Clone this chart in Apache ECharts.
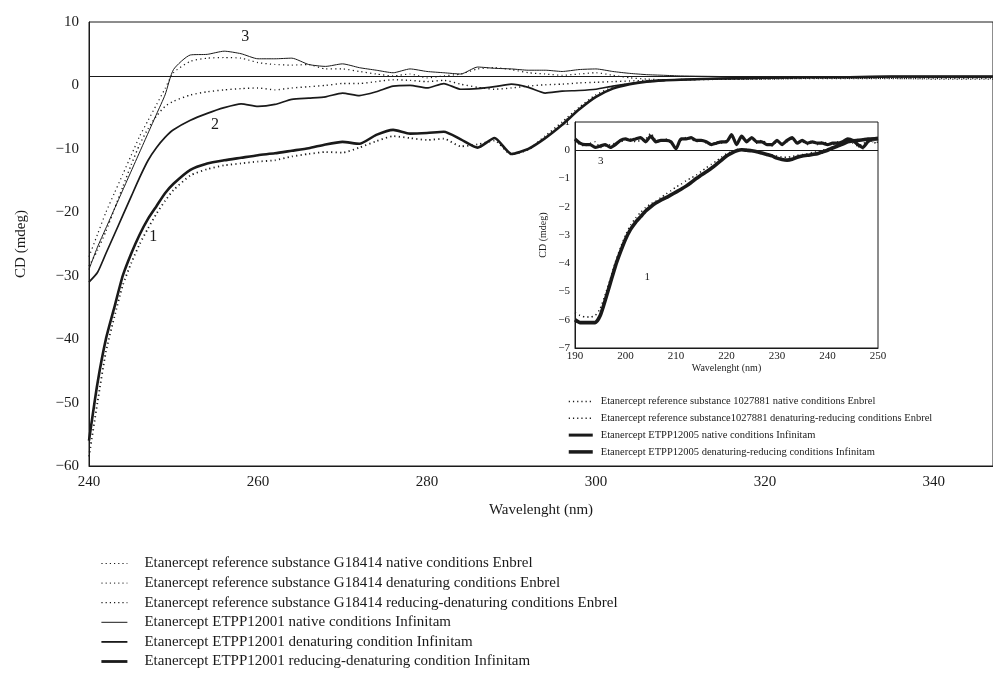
<!DOCTYPE html>
<html>
<head>
<meta charset="utf-8">
<script src="https://cdn.jsdelivr.net/npm/echarts@6/dist/echarts.min.js"></script>
<style>
  html, body { margin: 0; padding: 0; background: #fff; }
  #chart { width: 993px; height: 679px; }
</style>
</head>
<body>
<div id="chart"></div>
<script>
// main plot: wavelength (nm)
var mainWl = [240, 241, 242, 243, 244, 245, 246, 247, 248, 249, 250,
  252, 254, 256, 258, 260, 262, 264, 266, 268, 270, 272, 274, 276, 278, 280,
  282, 284, 286, 288, 290, 292, 294, 296, 298, 300, 302, 304, 306, 308, 310,
  315, 320, 325, 330, 335, 340, 347];

// Enbrel G18414 (dotted)
var enbNative = [-27, -23.5, -20, -17, -14, -11, -8, -5.5, -3, -0.5, 2.0,
  3.8, 4.3, 4.4, 4.3, 3.6, 3.3, 3.2, 3.3, 2.6, 2.6, 2.2, 1.8, 1.5, 1.8, 1.2,
  1.5, 1.8, 2.6, 2.8, 2.5, 2.0, 1.8, 1.6, 1.8, 2.0, 1.6, 1.2, 1.0, 0.9, 0.9,
  1.0, 1.0, 1.1, 1.1, 1.1, 1.0, 1.0];
var enbDenat = [-28.5, -26, -23, -19.5, -16, -12.5, -9.3, -6.8, -4.8, -3.3, -2.5,
  -1.5, -1.0, -0.7, -0.5, -0.4, -0.7, -0.4, -0.2, 0.0, 0.3, 0.3, 0.6, 0.9, 0.8, 0.6,
  0.8, 0.2, -0.3, -0.6, -0.4, -0.1, 0.1, 0.2, 0.4, 0.5, 0.6, 0.7, 0.8, 0.8, 0.9,
  1.0, 1.0, 1.1, 1.1, 1.1, 1.1, 1.1];
var enbRedDenat = [-58.5, -50, -42, -36.5, -31.5, -28, -25, -22.5, -20.2, -18.2, -16.5,
  -14.2, -13.2, -12.6, -12.3, -12.0, -11.8, -11.2, -10.8, -10.5, -10.6, -9.8, -8.8, -8.0, -8.3, -8.6,
  -8.4, -9.6, -9.3, -8.7, -10.9, -10.1, -8.0, -5.8, -3.5, -1.5, -0.3, 0.3, 0.6, 0.8, 0.9,
  1.0, 1.1, 1.2, 1.3, 1.3, 1.3, 1.3];

// Infinitam ETPP12001 (solid)
var infNative = [-29, -25.5, -22.5, -19.5, -16.5, -13.5, -10.5, -7.5, -4.5, -1.5, 2.5,
  4.8, 4.9, 5.4, 5.0, 4.2, 4.2, 4.3, 3.3, 3.0, 3.4, 2.8, 2.4, 2.0, 2.6, 2.2,
  2.0, 1.8, 2.9, 2.7, 2.6, 2.4, 2.4, 2.2, 2.5, 2.6, 2.2, 1.9, 1.7, 1.6, 1.5,
  1.4, 1.3, 1.3, 1.3, 1.4, 1.3, 1.3];
var infDenat = [-31, -29.5, -26.5, -23.5, -20.5, -17.5, -14.5, -11.8, -9.8, -8.2, -7.0,
  -5.5, -4.4, -3.5, -2.9, -3.3, -3.0, -2.2, -2.0, -1.8, -1.2, -1.6, -1.0, -0.1, 0.0, -0.4,
  0.3, -0.6, -0.5, -0.2, 0.2, -0.3, -1.2, -0.9, -0.8, -0.6, -0.1, 0.3, 0.6, 0.8, 0.9,
  1.1, 1.2, 1.3, 1.3, 1.4, 1.4, 1.4];
var infRedDenat = [-56, -47, -40, -35, -30, -26.5, -23.5, -21, -19, -17, -15.5,
  -13.3, -12.3, -11.8, -11.4, -11.0, -10.7, -10.3, -9.9, -9.3, -8.9, -9.2, -7.8, -7.0, -7.6, -7.5,
  -7.3, -8.5, -9.8, -8.3, -10.8, -10.0, -8.3, -6.2, -3.8, -1.8, -0.5, 0.2, 0.6, 0.8, 0.9,
  1.1, 1.2, 1.3, 1.3, 1.4, 1.4, 1.4];

// inset: wavelength (nm)
var insetWl = [];
for (var w = 190; w <= 250; w++) insetWl.push(w);

var ins1027Native = [0.35, 0.2, 0.15, 0.25, 0.3, 0.1, 0.15, 0.2, 0.25, 0.3,
  0.35, 0.4, 0.3, 0.35, 0.4, 0.6, 0.35, 0.3, 0.4, 0.25,
  0.1, 0.35, 0.45, 0.4, 0.3, 0.35, 0.25, 0.2, 0.3, 0.25,
  0.35, 0.5, 0.3, 0.45, 0.35, 0.4, 0.25, 0.35, 0.25, 0.15,
  0.3, 0.25, 0.3, 0.4, 0.3, 0.3, 0.2, 0.35, 0.2, 0.3,
  0.25, 0.2, 0.3, 0.25, 0.35, 0.4, 0.15, 0.05, 0.35, 0.3, 0.2];
var ins1027DenRed = [-5.75, -5.85, -5.9, -5.9, -5.85, -5.6, -5.1, -4.55, -3.95, -3.45,
  -3.0, -2.65, -2.4, -2.2, -2.02, -1.9, -1.8, -1.68, -1.55, -1.43,
  -1.3, -1.2, -1.08, -0.98, -0.88, -0.75, -0.62, -0.5, -0.38, -0.25,
  -0.12, -0.05, 0.02, 0.05, 0.03, 0.0, -0.05, -0.08, -0.12, -0.16,
  -0.2, -0.24, -0.25, -0.22, -0.18, -0.15, -0.12, -0.08, -0.05, 0.0,
  0.05, 0.12, 0.2, 0.28, 0.32, 0.25, 0.15, 0.22, 0.32, 0.3, 0.28];
var ins12005Native = [0.4, 0.25, 0.2, 0.2, 0.1, 0.15, 0.2, 0.1, 0.2, 0.35,
  0.4, 0.35, 0.4, 0.45, 0.3, 0.5, 0.3, 0.35, 0.35, 0.3,
  0.05, 0.4, 0.4, 0.45, 0.35, 0.35, 0.3, 0.2, 0.25, 0.3,
  0.3, 0.55, 0.2, 0.5, 0.3, 0.45, 0.3, 0.3, 0.2, 0.2,
  0.35, 0.2, 0.35, 0.45, 0.25, 0.35, 0.25, 0.3, 0.25, 0.25,
  0.2, 0.25, 0.25, 0.3, 0.4, 0.35, 0.2, 0.1, 0.3, 0.4, 0.4];
var ins12005DenRed = [-6.0, -6.1, -6.1, -6.1, -6.1, -5.85, -5.3, -4.7, -4.1, -3.6,
  -3.15, -2.8, -2.55, -2.35, -2.15, -2.0, -1.87, -1.77, -1.68, -1.58,
  -1.48, -1.38, -1.27, -1.14, -1.0, -0.88, -0.76, -0.64, -0.5, -0.35,
  -0.2, -0.1, -0.02, 0.02, 0.0, -0.02, -0.05, -0.1, -0.15, -0.2,
  -0.28, -0.33, -0.35, -0.32, -0.25, -0.2, -0.18, -0.15, -0.12, -0.06,
  0.0, 0.08, 0.15, 0.22, 0.3, 0.33, 0.35, 0.37, 0.4, 0.4, 0.42];

var mainNames = [
  'Etanercept reference substance G18414 native conditions Enbrel',
  'Etanercept reference substance G18414 denaturing conditions Enbrel',
  'Etanercept reference substance G18414 reducing-denaturing conditions Enbrel',
  'Etanercept ETPP12001 native conditions Infinitam',
  'Etanercept ETPP12001 denaturing condition Infinitam',
  'Etanercept ETPP12001 reducing-denaturing condition Infinitam'
];
var insetNames = [
  'Etanercept reference substance 1027881 native conditions Enbrel',
  'Etanercept reference substance1027881 denaturing-reducing conditions Enbrel',
  'Etanercept ETPP12005 native conditions Infinitam',
  'Etanercept ETPP12005 denaturing-reducing conditions Infinitam'
];

var ink = '#1a1a1a';
var serif = '"Liberation Serif", "DejaVu Serif", serif';

function pairs(xs, ys) {
  return xs.map(function (x, i) { return [x, ys[i]]; });
}
function minus(v) { return String(v).replace('-', '\u2212'); }

function line(name, xs, ys, width, dotted, idx) {
  return {
    name: name,
    type: 'line',
    xAxisIndex: idx, yAxisIndex: idx,
    data: pairs(xs, ys),
    symbol: 'none',
    smooth: 0.2,
    lineStyle: { color: ink, width: width, type: dotted ? [1.2, 3.2] : 'solid' },
    itemStyle: { color: ink }
  };
}

function numLabel(text, x, y, size) {
  return {
    symbol: 'circle', symbolSize: 0,
    label: { show: true, position: 'inside', formatter: text, color: ink, fontFamily: serif, fontSize: size },
    data: [{ coord: [x, y] }]
  };
}

// legend entries with their own stroke widths
function legendItems(names, widths, dotted) {
  return names.map(function (n, i) {
    return { name: n, lineStyle: { width: widths[i], type: dotted[i] ? [1.2, 3] : 'solid', color: ink } };
  });
}

var chart = echarts.init(document.getElementById('chart'));

var series = [
  line(mainNames[0], mainWl, enbNative, 1.2, true, 0),
  line(mainNames[1], mainWl, enbDenat, 1.4, true, 0),
  line(mainNames[2], mainWl, enbRedDenat, 1.8, true, 0),
  line(mainNames[3], mainWl, infNative, 1, false, 0),
  line(mainNames[4], mainWl, infDenat, 1.7, false, 0),
  line(mainNames[5], mainWl, infRedDenat, 2.6, false, 0),
  line(insetNames[0], insetWl, ins1027Native, 1.5, true, 1),
  line(insetNames[1], insetWl, ins1027DenRed, 1.5, true, 1),
  line(insetNames[2], insetWl, ins12005Native, 3.2, false, 1),
  line(insetNames[3], insetWl, ins12005DenRed, 3.6, false, 1)
];
series[3].markLine = {
  silent: true, symbol: 'none', label: { show: false },
  lineStyle: { color: ink, width: 1, type: 'solid' },
  data: [{ yAxis: 1.5 }]
};
series[3].markPoint = numLabel('3', 258.5, 7.6, 16);
series[4].markPoint = numLabel('2', 254.9, -6.2, 16);
series[5].markPoint = numLabel('1', 247.6, -23.9, 16);
series[8].markLine = {
  silent: true, symbol: 'none', label: { show: false },
  lineStyle: { color: ink, width: 1, type: 'solid' },
  data: [{ yAxis: 0 }]
};
series[8].markPoint = numLabel('3', 195.1, -0.4, 11);
series[9].markPoint = numLabel('1', 204.3, -4.5, 11);

var option = {
  backgroundColor: '#fff',
  animation: false,
  grid: [
    { left: 89, top: 22, right: -3, height: 444, show: true, borderColor: ink, borderWidth: 1, backgroundColor: '#fff' },
    { left: 575, top: 122, width: 303, height: 226, show: true, borderColor: ink, borderWidth: 1, backgroundColor: '#fff' }
  ],
  xAxis: [
    {
      gridIndex: 0, type: 'value', min: 240, max: 347, interval: 20,
      name: 'Wavelenght (nm)', nameLocation: 'middle', nameGap: 37,
      nameTextStyle: { fontFamily: serif, fontSize: 15, color: ink },
      axisLine: { onZero: false, lineStyle: { color: ink } }, axisTick: { show: false }, splitLine: { show: false },
      axisLabel: { fontFamily: serif, fontSize: 15, color: ink, margin: 9, showMaxLabel: false }
    },
    {
      gridIndex: 1, type: 'value', min: 190, max: 250, interval: 10,
      name: 'Wavelenght (nm)', nameLocation: 'middle', nameGap: 15,
      nameTextStyle: { fontFamily: serif, fontSize: 10, color: ink },
      axisLine: { onZero: false, lineStyle: { color: ink } }, axisTick: { show: false }, splitLine: { show: false },
      axisLabel: { fontFamily: serif, fontSize: 11, color: ink, margin: 3 }
    }
  ],
  yAxis: [
    {
      gridIndex: 0, type: 'value', min: -60, max: 10, interval: 10,
      name: 'CD (mdeg)', nameLocation: 'middle', nameGap: 60, nameRotate: 90,
      nameTextStyle: { fontFamily: serif, fontSize: 15, color: ink },
      axisLine: { onZero: false, lineStyle: { color: ink } }, axisTick: { show: false }, splitLine: { show: false },
      axisLabel: { fontFamily: serif, fontSize: 15, color: ink, margin: 10, formatter: minus }
    },
    {
      gridIndex: 1, type: 'value', min: -7, max: 1, interval: 1, z: 10,
      name: 'CD (mdeg)', nameLocation: 'middle', nameGap: 27, nameRotate: 90,
      nameTextStyle: { fontFamily: serif, fontSize: 10, color: ink },
      axisLine: { onZero: false, lineStyle: { color: ink } }, axisTick: { show: false }, splitLine: { show: false },
      axisLabel: { fontFamily: serif, fontSize: 11, color: ink, margin: 5, formatter: minus, showMaxLabel: true, showMinLabel: true }
    }
  ],
  legend: [
    {
      data: legendItems(mainNames, [1, 1, 1.3, 1, 1.8, 2.8], [true, true, true, false, false, false]),
      orient: 'vertical', left: 100, top: 556, padding: 0,
      itemWidth: 26, itemHeight: 14, itemGap: 4.6,
      itemStyle: { opacity: 0 },
      textStyle: { fontFamily: serif, fontSize: 15, lineHeight: 15, color: ink, padding: [0, 0, 0, 12] },
      selectedMode: false
    },
    {
      data: legendItems(insetNames, [1.5, 1.5, 3, 3.5], [true, true, false, false]),
      orient: 'vertical', left: 567, top: 396, padding: 0,
      itemWidth: 24, itemHeight: 12, itemGap: 5.8,
      itemStyle: { opacity: 0 },
      textStyle: { fontFamily: serif, fontSize: 10.5, lineHeight: 11, color: ink, padding: [0, 0, 0, 3] },
      selectedMode: false
    }
  ],
  series: series
};

chart.setOption(option);
</script>
</body>
</html>
